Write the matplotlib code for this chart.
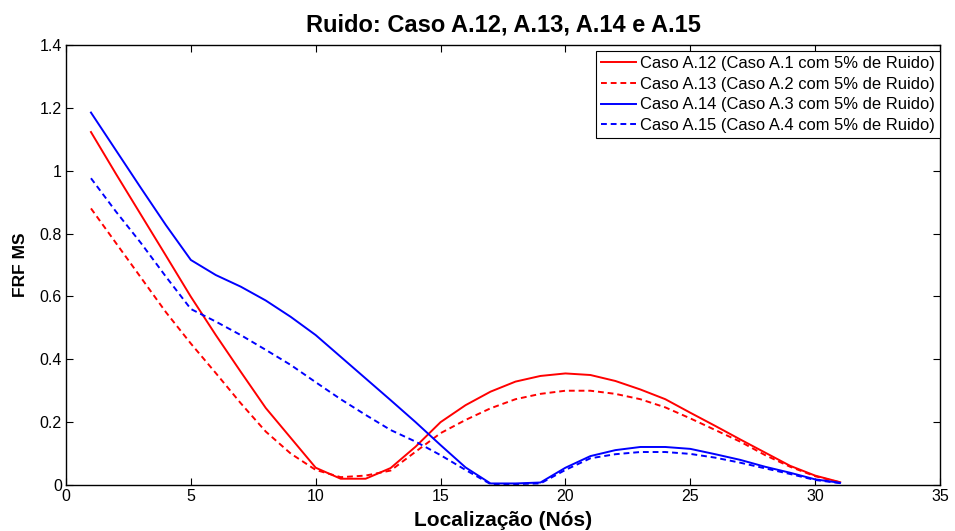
import numpy as np
import matplotlib
matplotlib.use('Agg')
import matplotlib.pyplot as plt

nos = np.arange(1, 32)

caso_a12 = [1.123, 0.99, 0.86, 0.73, 0.599, 0.477, 0.36, 0.245, 0.15, 0.055,
            0.02, 0.02, 0.054, 0.122, 0.20, 0.254, 0.297, 0.329, 0.347, 0.355,
            0.35, 0.331, 0.304, 0.273, 0.23, 0.188, 0.145, 0.103, 0.061, 0.03, 0.009]
caso_a13 = [0.88, 0.77, 0.66, 0.55, 0.45, 0.356, 0.26, 0.17, 0.10, 0.048,
            0.025, 0.03, 0.046, 0.106, 0.165, 0.207, 0.244, 0.273, 0.29, 0.30,
            0.30, 0.29, 0.273, 0.247, 0.212, 0.175, 0.138, 0.095, 0.058, 0.028, 0.008]
caso_a14 = [1.185, 1.065, 0.945, 0.827, 0.716, 0.668, 0.631, 0.587, 0.535, 0.477,
            0.408, 0.339, 0.27, 0.20, 0.127, 0.056, 0.005, 0.005, 0.008, 0.055,
            0.092, 0.111, 0.121, 0.121, 0.115, 0.098, 0.08, 0.058, 0.039, 0.018, 0.007]
caso_a15 = [0.976, 0.87, 0.77, 0.663, 0.56, 0.52, 0.477, 0.43, 0.382, 0.327,
            0.273, 0.223, 0.175, 0.138, 0.095, 0.048, 0.003, 0.003, 0.005, 0.048,
            0.085, 0.098, 0.105, 0.105, 0.099, 0.087, 0.071, 0.053, 0.035, 0.016, 0.006]

legendas = ['Caso A.12 (Caso A.1 com 5% de Ruido)',
            'Caso A.13 (Caso A.2 com 5% de Ruido)',
            'Caso A.14 (Caso A.3 com 5% de Ruido)',
            'Caso A.15 (Caso A.4 com 5% de Ruido)']

plt.rcParams['font.family'] = ['Liberation Sans', 'DejaVu Sans']

fig = plt.figure(figsize=(9.55, 5.31), dpi=100)
ax = fig.add_axes([0.0691, 0.0866, 0.9152, 0.8287])

ax.plot(nos, caso_a12, color='red', linestyle='-', lw=1.4, label=legendas[0])
ax.plot(nos, caso_a13, color='red', linestyle=(0, (3, 2)), lw=1.4, label=legendas[1])
ax.plot(nos, caso_a14, color='blue', linestyle='-', lw=1.4, label=legendas[2])
ax.plot(nos, caso_a15, color='blue', linestyle=(0, (3, 2)), lw=1.4, label=legendas[3])

ax.set_xlim(0, 35)
ax.set_ylim(0, 1.4)
ax.set_xticks(np.arange(0, 36, 5))
ax.set_yticks(np.arange(0, 1.41, 0.2))
ax.set_yticklabels(['0', '0.2', '0.4', '0.6', '0.8', '1', '1.2', '1.4'])
ax.tick_params(direction='in', top=True, right=True, labelsize=11.5, length=5, pad=3)
for s in ax.spines.values():
    s.set_linewidth(1.0)

ax.set_title('Ruido: Caso A.12, A.13, A.14 e A.15', fontsize=17, fontweight='bold', pad=10)
ax.set_xlabel('Localização (Nós)', fontsize=15, fontweight='bold', labelpad=5)
ax.set_ylabel('FRF MS', fontsize=12.5, fontweight='bold', labelpad=8)

leg = ax.legend(loc='upper right', bbox_to_anchor=(1.0, 0.9864), fontsize=11.9,
                handlelength=2.1, handletextpad=0.25, borderpad=0.3, labelspacing=0.35,
                fancybox=False, framealpha=1, borderaxespad=0)
leg.get_frame().set_edgecolor('black')
leg.get_frame().set_linewidth(0.8)

fig.savefig('out.png', dpi=100)
